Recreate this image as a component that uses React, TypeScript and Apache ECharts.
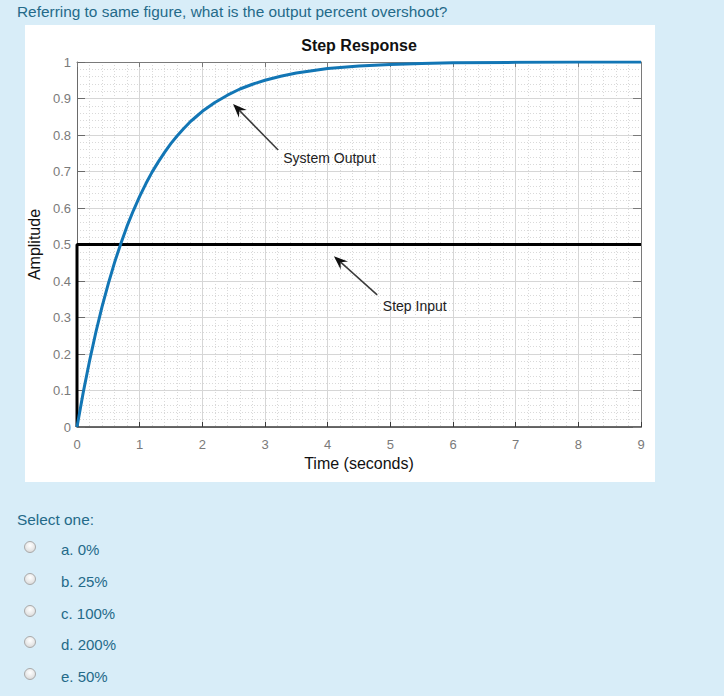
import React, { useEffect, useRef } from "react";
import * as echarts from "echarts";

const questionText = "Referring to same figure, what is the output percent overshoot?";
const chartTitle = "Step Response";
const xAxisName = "Time (seconds)";
const yAxisName = "Amplitude";
const selectLabel = "Select one:";
const answerOptions = ["a. 0%", "b. 25%", "c. 100%", "d. 200%", "e. 50%"];

const xMin = 0;
const xMax = 9;
const xInterval = 1;
const yMin = 0;
const yMax = 1;
const yInterval = 0.1;

// System output
const outputTime = [0, 0.1, 0.2, 0.3, 0.4, 0.5, 0.6, 0.7, 0.8, 0.9, 1.0, 1.1, 1.2, 1.3, 1.4, 1.5, 1.6, 1.7, 1.8, 1.9, 2.0, 2.2, 2.4, 2.6, 2.8, 3.0, 3.25, 3.5, 3.75, 4.0, 4.5, 5.0, 5.5, 6.0, 7.0, 8.0, 9.0];
const outputValue = [0, 0.095, 0.181, 0.259, 0.33, 0.393, 0.451, 0.503, 0.551, 0.593, 0.632, 0.667, 0.699, 0.727, 0.753, 0.777, 0.798, 0.817, 0.835, 0.85, 0.865, 0.889, 0.909, 0.926, 0.939, 0.95, 0.961, 0.97, 0.976, 0.982, 0.989, 0.993, 0.996, 0.998, 0.999, 1.0, 1.0];

// Step input
const inputTime = [0, 0, 9];
const inputValue = [0, 0.5, 0.5];

// Annotations in data coordinates
const annotationLabels = ["System Output", "Step Input"];
const annotationTips = [[2.49, 0.885], [4.1, 0.468]];
const annotationTails = [[3.21, 0.759], [4.79, 0.362]];
const annotationTextAt = [[3.29, 0.737], [4.88, 0.332]];

const FONT = '"Liberation Sans", Arial, Helvetica, sans-serif';
const TEXT_COLOR = "#246a89";

function Radio() {
  return (
    <div
      style={{
        width: 12,
        height: 12,
        borderRadius: "50%",
        border: "1px solid #a9a9a9",
        background: "radial-gradient(circle at 50% 35%, #ffffff 0%, #e8e8e8 55%, #cfcfcf 100%)",
        boxSizing: "border-box",
      }}
    />
  );
}

export default function App() {
  const ref = useRef<HTMLDivElement>(null);

  useEffect(() => {
    if (!ref.current) return;
    const chart = echarts.init(ref.current, null, { renderer: "svg" });

    const outputData = outputTime.map((t, i) => [t, outputValue[i]]);
    const inputData = inputTime.map((t, i) => [t, inputValue[i]]);

    chart.setOption({
      animation: false,
      backgroundColor: "#ffffff",
      title: {
        text: chartTitle,
        left: 334,
        top: 12,
        textAlign: "center",
        padding: 0,
        textStyle: { fontFamily: FONT, fontSize: 16, fontWeight: "bold", color: "#111" },
      },
      grid: {
        left: 52,
        right: 14,
        top: 37,
        bottom: 55,
        containLabel: false,
        outerBoundsMode: "none",
      },
      xAxis: [
        {
          type: "value",
          min: xMin,
          max: xMax,
          interval: xInterval,
          position: "bottom",
          name: xAxisName,
          nameLocation: "middle",
          nameGap: 28,
          nameTextStyle: { fontFamily: FONT, fontSize: 16, color: "#111" },
          axisLine: { show: true, onZero: false, lineStyle: { color: "#3a3a3a", width: 1.5 } },
          axisTick: { show: true, inside: true, length: 5, lineStyle: { color: "#3a3a3a" } },
          axisLabel: { color: "#7a7a7a", fontSize: 13, margin: 11, fontFamily: FONT },
          splitLine: { show: true, lineStyle: { color: "#d6d6d6", width: 1 } },
          minorTick: { show: false, splitNumber: 5 },
          minorSplitLine: { show: true, lineStyle: { color: "#d9d9d9", width: 1, type: [1, 2] } },
        },
        {
          type: "value",
          min: xMin,
          max: xMax,
          interval: xInterval,
          position: "top",
          axisLine: { show: true, onZero: false, lineStyle: { color: "#7a7a7a", width: 1 } },
          axisTick: { show: true, inside: true, length: 5, lineStyle: { color: "#7a7a7a" } },
          axisLabel: { show: false },
          splitLine: { show: false },
        },
      ],
      yAxis: [
        {
          type: "value",
          min: yMin,
          max: yMax,
          interval: yInterval,
          position: "left",
          name: yAxisName,
          nameLocation: "middle",
          nameGap: 33,
          nameTextStyle: { fontFamily: FONT, fontSize: 16, color: "#111" },
          axisLine: { show: true, onZero: false, lineStyle: { color: "#6a6a6a", width: 1 } },
          axisTick: { show: true, inside: true, length: 8, lineStyle: { color: "#6a6a6a" } },
          axisLabel: { color: "#7a7a7a", fontSize: 13, margin: 6, fontFamily: FONT },
          splitLine: { show: true, lineStyle: { color: "#d6d6d6", width: 1 } },
          minorTick: { show: false, splitNumber: 5 },
          minorSplitLine: { show: true, lineStyle: { color: "#d9d9d9", width: 1, type: [1, 2] } },
        },
        {
          type: "value",
          min: yMin,
          max: yMax,
          interval: yInterval,
          position: "right",
          axisLine: { show: true, onZero: false, lineStyle: { color: "#7a7a7a", width: 1 } },
          axisTick: { show: true, inside: true, length: 8, lineStyle: { color: "#7a7a7a" } },
          axisLabel: { show: false },
          splitLine: { show: false },
        },
      ],
      series: [
        {
          name: "Step Input",
          type: "line",
          xAxisIndex: 0,
          yAxisIndex: 0,
          data: inputData,
          showSymbol: false,
          symbol: "none",
          lineStyle: { color: "#000000", width: 3 },
          z: 3,
        },
        {
          name: "System Output",
          type: "line",
          xAxisIndex: 0,
          yAxisIndex: 0,
          data: outputData,
          showSymbol: false,
          symbol: "none",
          smooth: false,
          lineStyle: { color: "#1276b5", width: 3, join: "round" },
          z: 4,
        },
      ],
    });

    const toPx = (p: number[]) =>
      chart.convertToPixel({ xAxisIndex: 0, yAxisIndex: 0 }, p) as number[];

    const graphics: any[] = [];
    annotationLabels.forEach((label, i) => {
      const tip = toPx(annotationTips[i]);
      const tail = toPx(annotationTails[i]);
      const txt = toPx(annotationTextAt[i]);
      const dx = tip[0] - tail[0];
      const dy = tip[1] - tail[1];
      const len = Math.sqrt(dx * dx + dy * dy);
      const ux = dx / len;
      const uy = dy / len;
      const nx = -uy;
      const ny = ux;
      const headL = 14;
      const headW = 11;
      const back = 9;
      const b1 = [tip[0] - ux * headL + nx * headW / 2, tip[1] - uy * headL + ny * headW / 2];
      const b2 = [tip[0] - ux * headL - nx * headW / 2, tip[1] - uy * headL - ny * headW / 2];
      const bc = [tip[0] - ux * back, tip[1] - uy * back];
      graphics.push({
        type: "line",
        shape: { x1: tail[0], y1: tail[1], x2: bc[0], y2: bc[1] },
        style: { stroke: "#3a3a3a", lineWidth: 1.5 },
        z: 10,
      });
      graphics.push({
        type: "polygon",
        shape: { points: [tip, b1, bc, b2] },
        style: { fill: "#111111" },
        z: 10,
      });
      graphics.push({
        type: "text",
        x: txt[0],
        y: txt[1],
        style: {
          text: label,
          fontFamily: FONT,
          fontSize: 14,
          fill: "#222222",
          textAlign: "left",
          textVerticalAlign: "middle",
        },
        z: 10,
      });
    });
    chart.setOption({ graphic: graphics });

    return () => chart.dispose();
  }, []);

  return (
    <div
      style={{
        position: "fixed",
        left: 0,
        top: 0,
        width: 724,
        height: 696,
        background: "#d8edf8",
        overflow: "hidden",
        fontFamily: FONT,
        color: TEXT_COLOR,
      }}
    >
      <div style={{ position: "absolute", left: 17, top: 3, fontSize: 15.4, lineHeight: "18px", whiteSpace: "nowrap" }}>
        {questionText}
      </div>
      <div
        ref={ref}
        style={{ position: "absolute", left: 25, top: 25, width: 630, height: 457, background: "#ffffff" }}
      />
      <div style={{ position: "absolute", left: 17, top: 511, fontSize: 15.4, lineHeight: "18px", whiteSpace: "nowrap" }}>
        {selectLabel}
      </div>
      {answerOptions.map((opt, i) => (
        <React.Fragment key={opt}>
          <div style={{ position: "absolute", left: 24, top: 541 + i * 31.8 }}>
            <Radio />
          </div>
          <div
            style={{
              position: "absolute",
              left: 61,
              top: 540 + i * 31.8,
              fontSize: 15,
              lineHeight: "19px",
              whiteSpace: "nowrap",
            }}
          >
            {opt}
          </div>
        </React.Fragment>
      ))}
    </div>
  );
}
